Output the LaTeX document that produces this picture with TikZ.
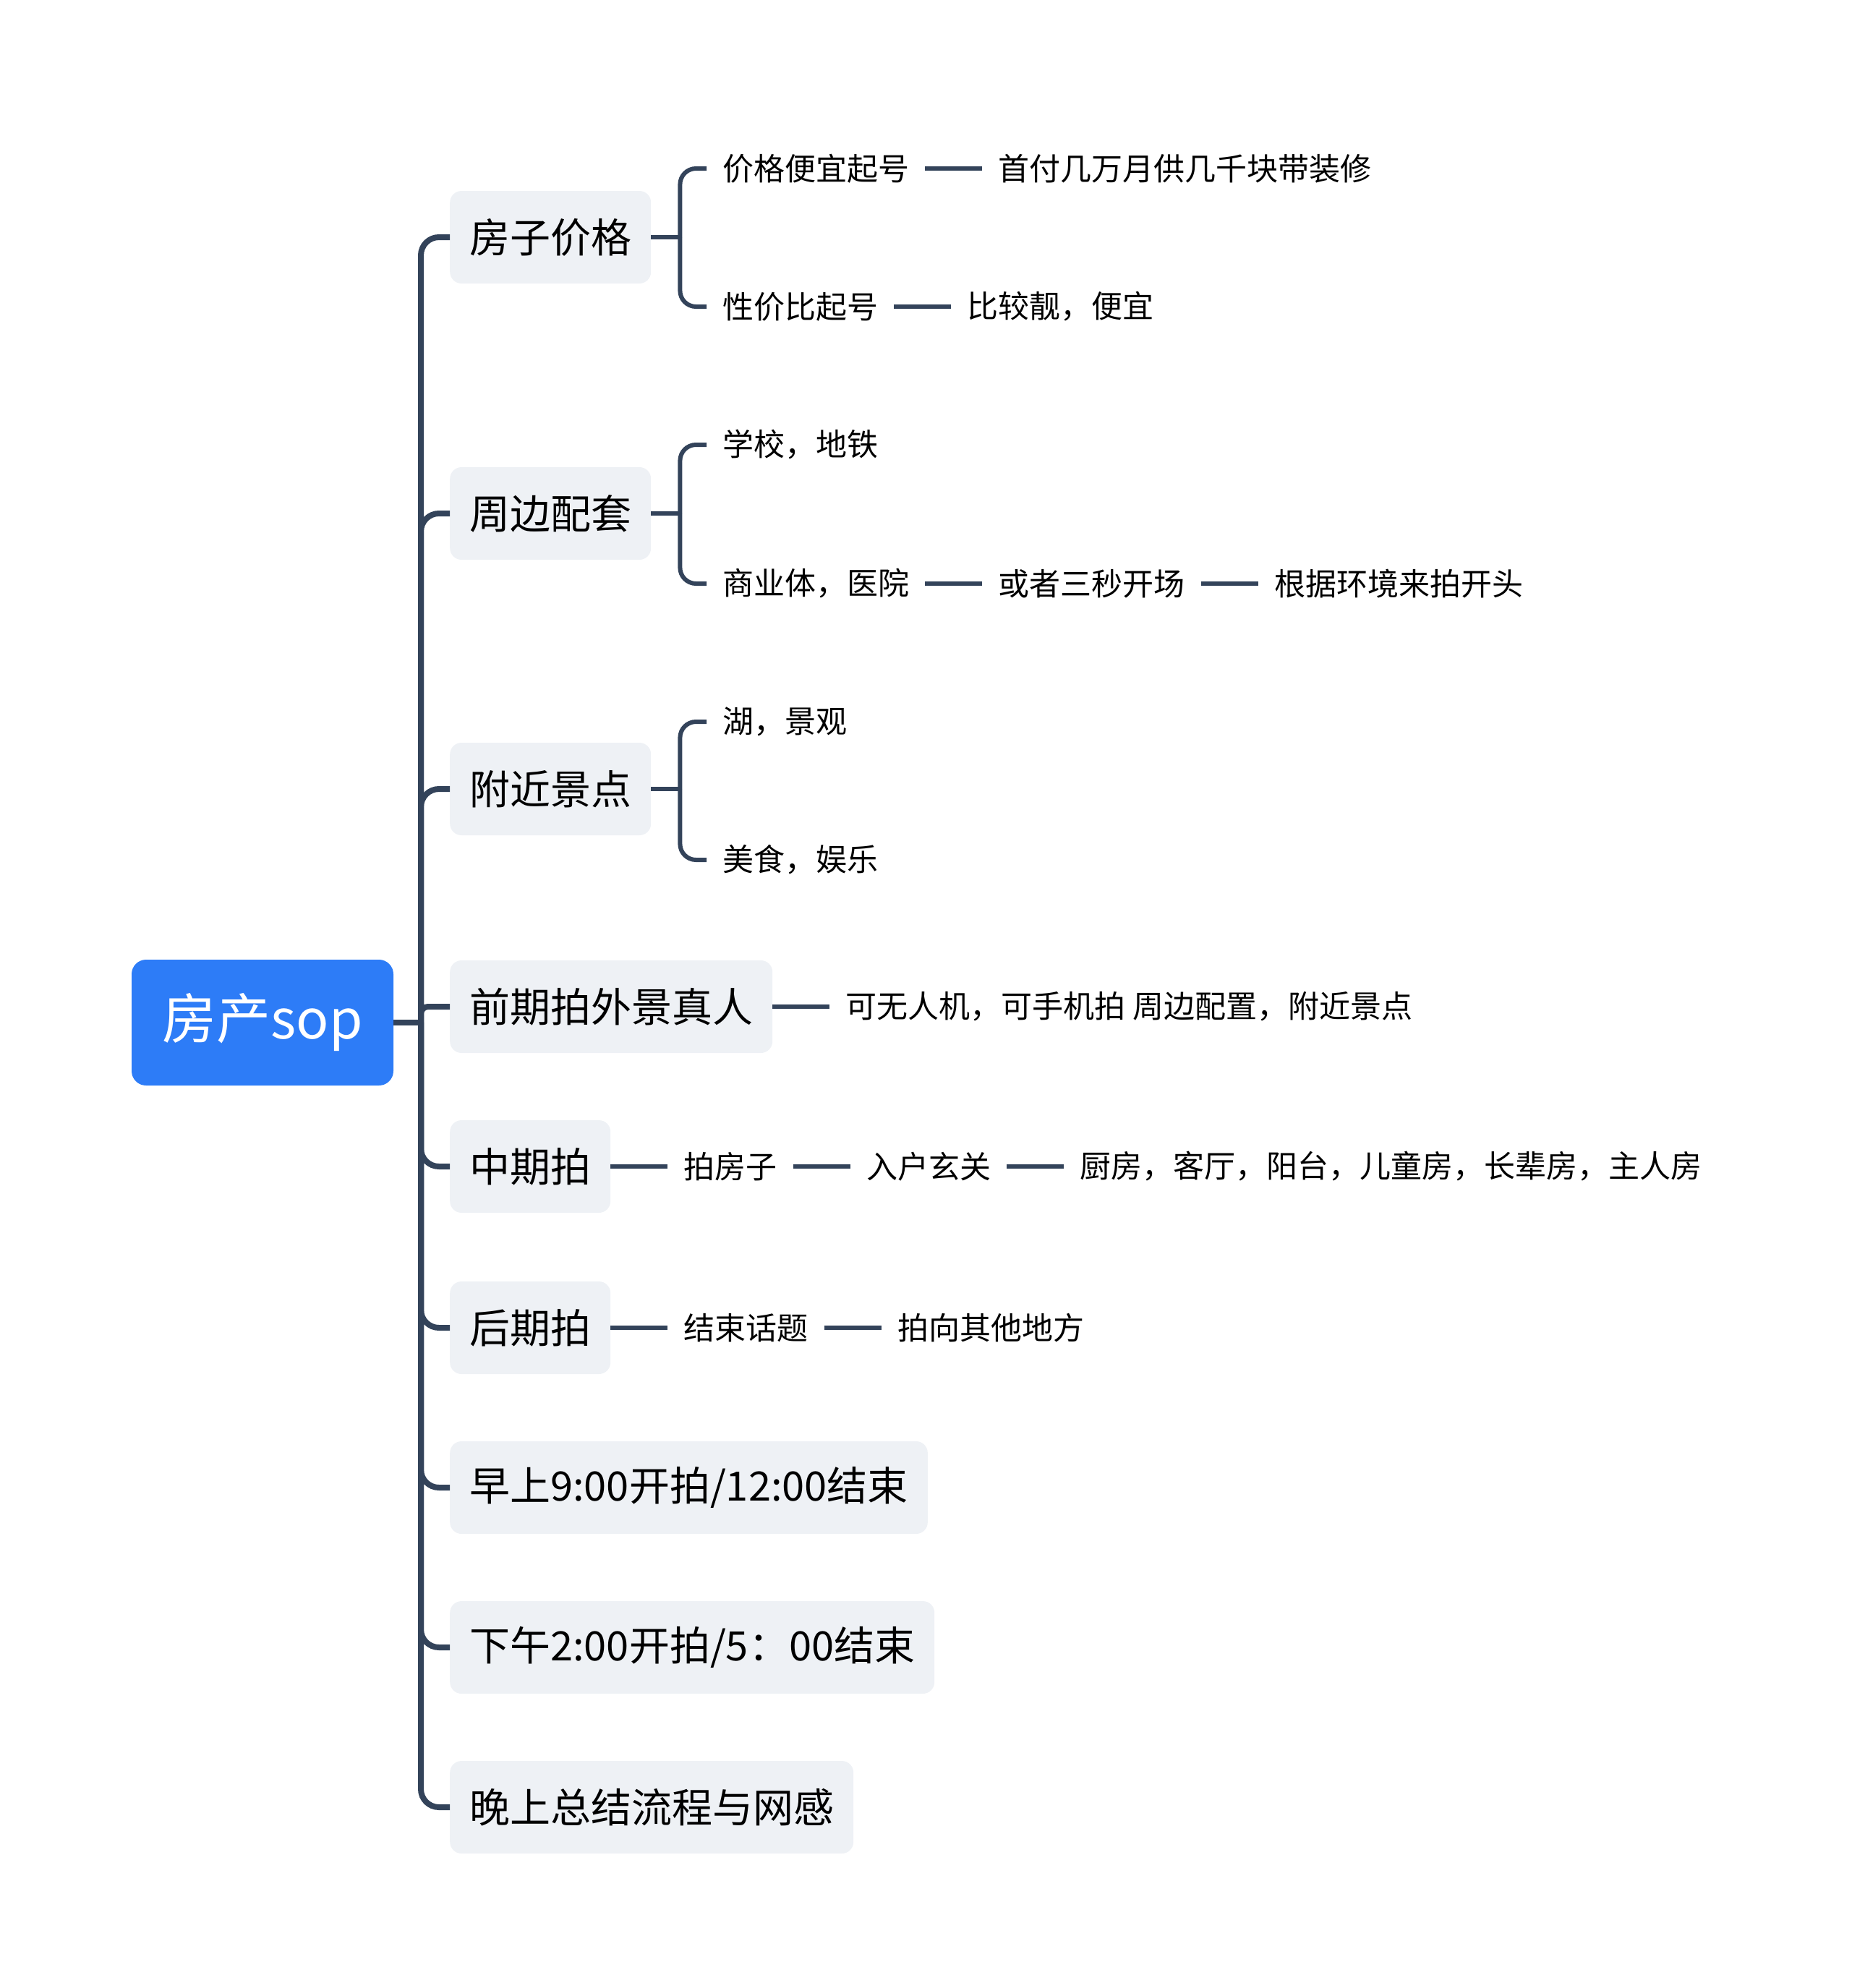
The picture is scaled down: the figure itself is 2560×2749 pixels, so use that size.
\documentclass[tikz,border=0pt]{standalone}
\usepackage{fontspec}
\setmainfont{Noto Sans CJK SC}
\definecolor{lc}{HTML}{33435A}
\definecolor{rootblue}{HTML}{2D7CF7}
\definecolor{boxgray}{HTML}{EEF1F5}
\begin{document}
\begin{tikzpicture}[x=1pt,y=-1pt,
  conn/.style={draw=lc, line width=8pt},
  conn2/.style={draw=lc, line width=6pt},
  rootbox/.style={fill=rootblue, rounded corners=20pt, text=white, font=\fontsize{75}{85}\selectfont, minimum width=362pt, minimum height=174pt, inner sep=0pt},
  lone/.style={fill=boxgray, rounded corners=16pt, font=\fontsize{56}{64}\selectfont, minimum height=128pt, inner xsep=27pt, inner ysep=0pt, anchor=west},
  ltwo/.style={font=\fontsize{43}{50}\selectfont, inner xsep=22pt, inner ysep=6pt, anchor=west},
]
\useasboundingbox (0,0) rectangle (2560,2749);

% root
\node[rootbox] (root) at (363,1414) {房产sop};
\coordinate (tr) at (582,1414);
\draw[conn] (root.east) -- (tr);

% level 1
\node[lone] (a) at (622,328) {房子价格};
\node[lone] (b) at (622,710) {周边配套};
\node[lone] (c) at (622,1091) {附近景点};
\node[lone] (d) at (622,1392) {前期拍外景真人};
\node[lone] (e) at (622,1613) {中期拍};
\node[lone] (f) at (622,1836) {后期拍};
\node[lone] (g) at (622,2057) {早上9:00开拍/12:00结束};
\node[lone] (h) at (622,2278) {下午2:00开拍/5：00结束};
\node[lone] (i) at (622,2499) {晚上总结流程与网感};

\foreach \n in {a,b,c,e,f,g,h,i}
  \draw[conn, rounded corners=25pt] (tr) |- (\n.west);
\draw[conn, rounded corners=10pt] (tr) |- (d.west);

% level 2 - brackets
\node[ltwo] (a1) at (977,233) {价格便宜起号};
\node[ltwo] (a2) at (977,424) {性价比起号};
\node[ltwo] (b1) at (977,615) {学校，地铁};
\node[ltwo] (b2) at (977,807) {商业体，医院};
\node[ltwo] (c1) at (977,998) {湖，景观};
\node[ltwo] (c2) at (977,1189) {美食，娱乐};

\foreach \p/\x/\y in {a/a1/a2, b/b1/b2, c/c1/c2}{
  \coordinate (\p j) at ([xshift=40pt]\p.east);
  \draw[conn2] (\p.east) -- (\p j);
  \draw[conn2, rounded corners=22pt] (\p j) |- (\x.west);
  \draw[conn2, rounded corners=22pt] (\p j) |- (\y.west);
}

% chains
\node[ltwo] (a1b) at ([xshift=79pt]a1.east) {首付几万月供几千块带装修};
\draw[conn2] (a1) -- (a1b);
\node[ltwo] (a2b) at ([xshift=79pt]a2.east) {比较靓，便宜};
\draw[conn2] (a2) -- (a2b);

\node[ltwo] (b2b) at ([xshift=79pt]b2.east) {或者三秒开场};
\draw[conn2] (b2) -- (b2b);
\node[ltwo] (b2c) at ([xshift=79pt]b2b.east) {根据环境来拍开头};
\draw[conn2] (b2b) -- (b2c);

\node[ltwo] (d1) at ([xshift=79pt]d.east) {可无人机，可手机拍 周边配置，附近景点};
\draw[conn2] (d) -- (d1);

\node[ltwo] (e1) at ([xshift=79pt]e.east) {拍房子};
\draw[conn2] (e) -- (e1);
\node[ltwo] (e2) at ([xshift=79pt]e1.east) {入户玄关};
\draw[conn2] (e1) -- (e2);
\node[ltwo] (e3) at ([xshift=79pt]e2.east) {厨房，客厅，阳台，儿童房，长辈房，主人房};
\draw[conn2] (e2) -- (e3);

\node[ltwo] (f1) at ([xshift=79pt]f.east) {结束话题};
\draw[conn2] (f) -- (f1);
\node[ltwo] (f2) at ([xshift=79pt]f1.east) {拍向其他地方};
\draw[conn2] (f1) -- (f2);
\end{tikzpicture}
\end{document}
